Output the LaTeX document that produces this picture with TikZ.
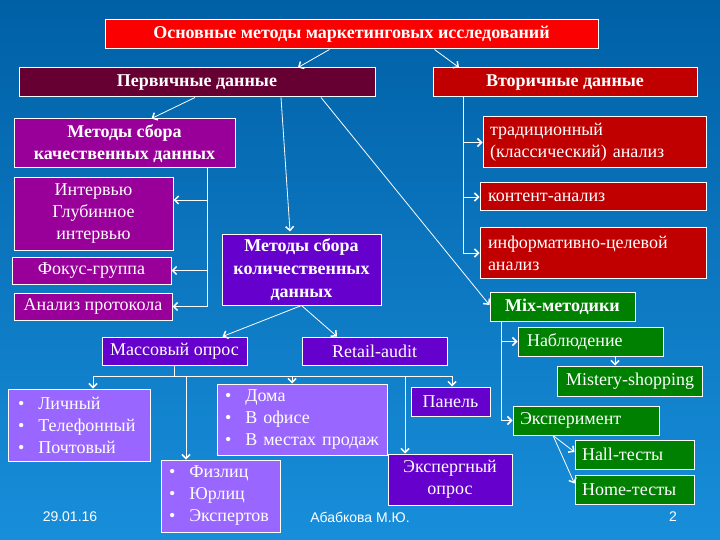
\documentclass[tikz,border=0pt]{standalone}
\usepackage{fontspec}
\setmainfont{Liberation Serif}
\newfontfamily\footfont{Liberation Sans}
\usetikzlibrary{arrows.meta}

\definecolor{bgTop}{RGB}{0,96,166}
\definecolor{bgBot}{RGB}{24,142,218}
\definecolor{cTop}{RGB}{250,0,0}
\definecolor{cPrim}{RGB}{102,0,51}
\definecolor{cSec}{RGB}{192,0,0}
\definecolor{cQual}{RGB}{153,0,153}
\definecolor{cQuant}{RGB}{102,0,204}
\definecolor{cList}{RGB}{153,102,255}
\definecolor{cMix}{RGB}{0,128,0}

\tikzset{
  box/.style={draw=white,line width=1pt,text=white,inner sep=2pt,
    font=\fontsize{18}{22}\selectfont},
  head/.style={box,font=\fontsize{18}{22}\selectfont\bfseries,align=center},
  boxsize/.style 2 args={minimum width=#1pt,minimum height=#2pt},
  link/.style={white,line width=0.8pt},
  foot/.style={text=white,font=\footfont\fontsize{14}{16}\selectfont}
}

\newcommand\itm{\textbullet\hspace{14pt}}

\begin{document}
\begin{tikzpicture}[x=1pt,y=-1pt,
    >={Straight Barb[length=4pt,width=8pt,line width=1.5pt]}]
    \useasboundingbox (0,0) rectangle (720,540);
    \shade[top color=bgTop,bottom color=bgBot] (0,0) rectangle (720,540);

    % headings
    \node[head,fill=cTop,boxsize={493}{29}] (title) at (351.5,34.5) {Основные методы маркетинговых исследований};
    \node[head,fill=cPrim,boxsize={356}{29}] (prim) at (197,82.5) {Первичные данные};
    \node[head,fill=cSec,boxsize={264}{29}] (sec) at (565,82.5) {Вторичные данные};

    % primary data
    \node[head,fill=cQual,boxsize={221}{49}] (qual) at (124.5,143.5) {Методы сбора\\качественных данных};
    \node[box,fill=cQual,boxsize={159}{72},align=center] (interv) at (93.5,214) {Интервью\\Глубинное\\интервью};
    \node[box,fill=cQual,boxsize={159}{27}] (focus) at (91.5,270.5) {Фокус-группа};
    \node[box,fill=cQual,boxsize={158}{27}] (proto) at (93,306.5) {Анализ протокола};
    \node[head,fill=cQuant,boxsize={159}{71},font=\fontsize{18}{23}\selectfont\bfseries] (quant) at (301.5,269.5) {Методы сбора\\количественных\\данных};

    % secondary data
    \node[box,fill=cSec,inner xsep=7pt,text width=209pt,align=left,minimum height=51pt] (trad) at (594.5,142.5) {традиционный\\(классический) анализ};
    \node[box,fill=cSec,inner xsep=8pt,text width=210pt,align=left,minimum height=28pt] (content) at (593,197) {контент-анализ};
    \node[box,fill=cSec,inner xsep=8pt,text width=210pt,align=left,minimum height=50pt] (info) at (593,253) {информативно-целевой\\анализ};

    % quantitative
    \node[box,fill=cQuant,boxsize={145}{28}] (mass) at (174.5,351) {Массовый опрос};
    \node[box,fill=cQuant,boxsize={145}{28}] (retail) at (374.5,351) {Retail-audit};
    \node[box,fill=cList,inner xsep=10pt,text width=122pt,align=left,minimum height=72pt] (list1) at (79,425) {\itm Личный\\\itm Телефонный\\\itm Почтовый};
    \node[box,fill=cList,inner xsep=8pt,text width=154pt,align=left,minimum height=71pt] (place) at (302,419.5) {\itm Дома\\\itm В офисе\\\itm В местах продаж};
    \node[box,fill=cList,inner xsep=8pt,text width=103pt,align=left,minimum height=72pt] (phys) at (220.5,496) {\itm Физлиц\\\itm Юрлиц\\\itm Экспертов};
    \node[box,fill=cQuant,boxsize={79}{29}] (panel) at (450.5,401.5) {Панель};
    \node[box,fill=cQuant,boxsize={124}{51},align=center] (expert) at (450,479.5) {Экспергный\\опрос};

    % mix
    \node[head,fill=cMix,boxsize={145}{29}] (mix) at (562.5,306.5) {Mix-методики};
    \node[box,fill=cMix,inner xsep=9pt,text width=127pt,align=left,minimum height=29pt] (observ) at (590.5,341.5) {Наблюдение};
    \node[box,fill=cMix,boxsize={145}{30}] (mistery) at (630,381) {Mistery-shopping};
    \node[box,fill=cMix,inner xsep=7pt,text width=132pt,align=left,minimum height=29pt] (exper) at (586,420.5) {Эксперимент};
    \node[box,fill=cMix,inner xsep=7pt,text width=105pt,align=left,minimum height=29pt] (hall) at (634.5,454.5) {Hall-тесты};
    \node[box,fill=cMix,inner xsep=7pt,text width=105pt,align=left,minimum height=29pt] (home) at (634.5,489.5) {Home-тесты};

    % footer
    \node[foot] (date) at (70,517) {29.01.16};
    \node[foot] (author) at (360,517) {Абабкова М.Ю.};
    \node[foot] (page) at (673,517) {2};

    % links
    \draw[link,->] ([xshift=-22pt]title.south) -- ([xshift=101pt]prim.north);
    \draw[link,->] ([xshift=83pt]title.south) -- ([xshift=-106pt]sec.north);
    \draw[link,->] ([xshift=-2pt]prim.south) -- ([xshift=27pt]qual.north);
    \draw[link,->] ([xshift=84pt]prim.south) -- ([xshift=-11.5pt,yshift=2pt]quant.north);
    \draw[link,->] ([xshift=124pt]prim.south) -- ([yshift=1.5pt]mix.west);
    \draw[link,->] ([xshift=-102pt]sec.south) |- (trad.west);
    \draw[link,->] ([xshift=-102pt]sec.south) |- (content.west);
    \draw[link,->] ([xshift=-102pt]sec.south) |- (info.west);
    \draw[link,->] ([xshift=82.5pt]qual.south) |- ([yshift=14pt]interv.east);
    \draw[link,->] ([xshift=82.5pt]qual.south) |- (focus.east);
    \draw[link,->] ([xshift=82.5pt]qual.south) |- (proto.east);
    \draw[link,->] (quant.south) -- ([xshift=48pt]mass.north);
    \draw[link,->] (quant.south) -- ([xshift=-37.5pt]retail.north);

    \coordinate (busL) at (93,376);
    \coordinate (busR) at (452,376);
    \draw[link] (mass.south) -- (mass.south |- busL);
    \draw[link] (busL) -- (busR);
    \foreach \x/\n in {93/list1,186/phys,292/place,405/expert,452/panel}
      \draw[link,->] (\x,376) -- (\x,0 |- \n.north);

    \draw[link,->] ([xshift=-61pt]mix.south) |- (observ.west);
    \draw[link,->] ([xshift=-61pt]mix.south) |- (exper.west);
    \draw[link,->] ([xshift=24.5pt]observ.south) -- ([xshift=24.5pt]observ.south |- mistery.north);
    \draw[link,->] ([xshift=-33pt]exper.south) -- ([yshift=2.5pt]hall.west);
    \draw[link,->] ([xshift=-33pt]exper.south) -- ([yshift=6pt]home.west);
\end{tikzpicture}
\end{document}
